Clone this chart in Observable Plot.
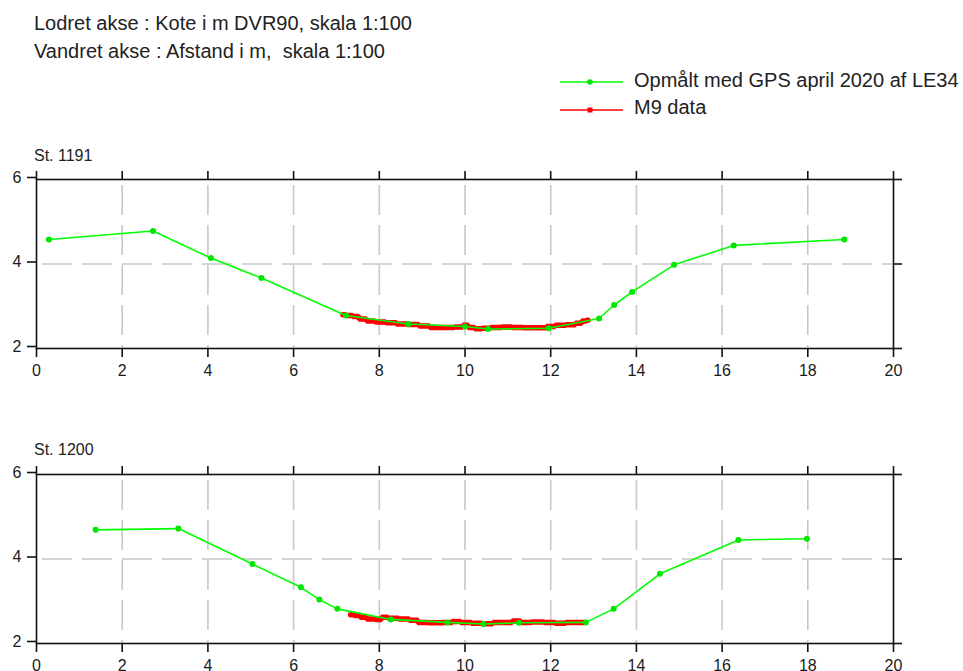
<!DOCTYPE html>
<html><head><meta charset="utf-8">
<script src="https://cdn.jsdelivr.net/npm/d3@7"></script>
<script src="https://cdn.jsdelivr.net/npm/@observablehq/plot@0.6"></script>
<style>
html,body{margin:0;padding:0;background:#fff;overflow:hidden;}
body{width:963px;height:671px;position:relative;font-family:"Liberation Sans",Arial,sans-serif;color:#222;}
.abs{position:absolute;white-space:pre;}
.panel{position:absolute;left:0;}
</style></head><body>
<div id="root"></div>
<script>
// ---- texts ----
const headerLines = ["Lodret akse : Kote i m DVR90, skala 1:100", "Vandret akse : Afstand i m,  skala 1:100"];
const seriesNames = ["Opmålt med GPS april 2020 af LE34", "M9 data"];
const seriesColors = ["#00ff00", "#ff0000"];
const stationNames = ["St. 1191", "St. 1200"];

// ---- ticks ----
const xTicks = [0, 2, 4, 6, 8, 10, 12, 14, 16, 18, 20];
const yTicks = [2, 4, 6];
const xGrid = [2, 4, 6, 8, 10, 12, 14, 16, 18];
const yGrid = [4];

// ---- St. 1191 ----
const gps1191X = [0.29, 2.72, 4.07, 5.25, 7.22, 8.68, 10.0, 10.54, 11.95, 13.13, 13.48, 13.9, 14.88, 16.27, 18.85];
const gps1191Y = [4.58, 4.78, 4.14, 3.67, 2.78, 2.58, 2.52, 2.46, 2.48, 2.71, 3.03, 3.34, 3.98, 4.44, 4.58];
const m9_1191X = [7.15, 7.3, 7.45, 7.6, 7.8, 8.0, 8.3, 8.5, 8.8, 9.05, 9.3, 9.6, 9.9, 10.0, 10.15, 10.3, 10.5, 10.7, 11.0, 11.2, 11.5, 11.8, 12.0, 12.2, 12.5, 12.65, 12.8, 12.87];
const m9_1191Y = [2.80, 2.78, 2.76, 2.70, 2.65, 2.63, 2.61, 2.58, 2.57, 2.53, 2.50, 2.50, 2.51, 2.55, 2.50, 2.47, 2.48, 2.50, 2.51, 2.50, 2.49, 2.49, 2.52, 2.55, 2.56, 2.60, 2.65, 2.67];

// ---- St. 1200 ----
const gps1200X = [1.38, 3.31, 5.04, 6.17, 6.6, 7.02, 8.27, 9.59, 10.43, 11.26, 12.82, 13.47, 14.55, 16.38, 17.98];
const gps1200Y = [4.69, 4.72, 3.88, 3.33, 3.04, 2.82, 2.57, 2.50, 2.46, 2.49, 2.50, 2.82, 3.65, 4.45, 4.48];
const m9_1200X = [7.33, 7.5, 7.6, 7.8, 8.0, 8.1, 8.3, 8.6, 8.8, 9.0, 9.3, 9.6, 9.8, 10.0, 10.3, 10.5, 10.8, 11.0, 11.2, 11.4, 11.7, 12.0, 12.2, 12.5, 12.78];
const m9_1200Y = [2.68, 2.66, 2.62, 2.58, 2.57, 2.62, 2.60, 2.58, 2.55, 2.50, 2.49, 2.50, 2.52, 2.50, 2.48, 2.47, 2.50, 2.50, 2.53, 2.50, 2.51, 2.50, 2.48, 2.50, 2.50];

const zip = (xs, ys) => xs.map((x, i) => ({x, y: ys[i]}));
const root = document.getElementById("root");

// header
const header = document.createElement("div");
header.className = "abs";
header.style.cssText = "left:34px;top:10px;font-size:20px;line-height:27.6px;";
header.textContent = headerLines.join("\n");
root.appendChild(header);

// legend
const legendTops = [69.8, 97.1];
const legendLineY = [82.3, 110];
seriesNames.forEach((name, i) => {
  const sw = document.createElementNS("http://www.w3.org/2000/svg", "svg");
  sw.setAttribute("width", 70); sw.setAttribute("height", 12);
  sw.style.cssText = `position:absolute;left:558px;top:${legendLineY[i] - 6}px;overflow:visible`;
  const c = seriesColors[i];
  sw.innerHTML = `<line x1="2" x2="65" y1="6" y2="6" stroke="${c}" stroke-width="1.6"/>` +
    (i === 0 ? `<circle cx="32" cy="6" r="2.8" fill="#00e600"/>` : `<rect x="29.5" y="3.5" width="5" height="5" fill="${c}"/>`);
  root.appendChild(sw);
  const t = document.createElement("div");
  t.className = "abs";
  t.style.cssText = `left:634px;top:${legendTops[i]}px;font-size:20px;line-height:20px;`;
  t.textContent = name;
  root.appendChild(t);
});

function panel(gps, m9) {
  const grid = {stroke: "#c8c8c8", strokeWidth: 1.6, strokeDasharray: "30,10", strokeDashoffset: 34};
  const axisStyle = {stroke: "#111", strokeWidth: 1.6, label: null};
  return Plot.plot({
    width: 963, height: 240,
    marginLeft: 36, marginRight: 70, marginTop: 39, marginBottom: 32,
    x: {domain: [0, 20]},
    y: {domain: [2, 6]},
    style: {fontSize: "16px", fontFamily: "Liberation Sans, Arial, sans-serif", color: "#1a1a1a", background: "transparent", overflow: "visible"},
    marks: [
      Plot.ruleY(yGrid, grid),
      Plot.ruleX(xGrid, grid),
      Plot.line(m9, {x: "x", y: "y", stroke: seriesColors[1], strokeWidth: 5.5, strokeLinejoin: "miter", curve: "step"}),
      Plot.line(gps, {x: "x", y: "y", stroke: seriesColors[0], strokeWidth: 1.6}),
      Plot.dot(gps, {x: "x", y: "y", r: 3, fill: "#00e600"}),
      Plot.frame({stroke: "#111", strokeWidth: 1.6}),
      Plot.axisX(xTicks, {anchor: "bottom", tickSize: 9, tickPadding: 7, ...axisStyle}),
      Plot.axisX(xTicks, {anchor: "top", tickSize: 9, tickFormat: () => "", ...axisStyle}),
      Plot.axisY(yTicks, {anchor: "left", tickSize: 9, tickPadding: 6, dy: -2, ...axisStyle}),
      Plot.axisY(yTicks, {anchor: "right", tickSize: 8, tickFormat: () => "", ...axisStyle})
    ]
  });
}

const panelTops = [140, 435];
const labelTops = [148.2, 442.2];
const panels = [
  [zip(gps1191X, gps1191Y), zip(m9_1191X, m9_1191Y)],
  [zip(gps1200X, gps1200Y), zip(m9_1200X, m9_1200Y)]
];
panels.forEach(([gps, m9], i) => {
  const p = panel(gps, m9);
  p.classList.add("panel");
  p.style.top = panelTops[i] + "px";
  p.style.position = "absolute";
  root.appendChild(p);
  const lab = document.createElement("div");
  lab.className = "abs";
  lab.style.cssText = `left:34px;top:${labelTops[i]}px;font-size:16px;line-height:16px;`;
  lab.textContent = stationNames[i];
  root.appendChild(lab);
});
</script>
</body></html>
